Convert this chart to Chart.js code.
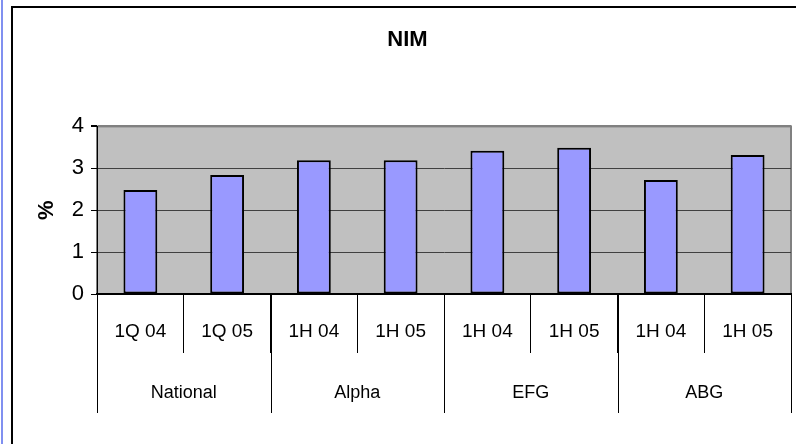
<!DOCTYPE html>
<html>
<head>
<meta charset="utf-8">
<script src="https://cdn.jsdelivr.net/npm/chart.js@4.4.1/dist/chart.umd.min.js"></script>
<style>
  html, body { margin: 0; padding: 0; background: #fff; overflow: hidden; }
  #wrap { position: relative; width: 796px; height: 444px; }
  #frame { position: absolute; left: 11px; top: 6px; width: 900px; height: 600px; border: 2px solid #000; box-sizing: border-box; }
  #bar { position: absolute; left: 1px; top: 0; width: 2px; height: 444px; background: #8090f0; }
  canvas { position: absolute; left: 0; top: 0; }
</style>
</head>
<body>
<div id="wrap">
  <div id="bar"></div>
  <div id="frame"></div>
  <canvas id="nim-chart" width="796" height="444"></canvas>
</div>
<script>
const periods = ['1Q 04', '1Q 05', '1H 04', '1H 05', '1H 04', '1H 05', '1H 04', '1H 05'];
const banks = ['National', 'Alpha', 'EFG', 'ABG'];
const nimValues = [2.48, 2.84, 3.19, 3.19, 3.42, 3.49, 2.72, 3.32];
const yTicks = [0, 1, 2, 3, 4];

const font = "'Liberation Sans', Arial, sans-serif";

// grey plot background with grey frame
const plotArea = {
    id: 'plotArea',
    beforeDraw(chart) {
        const a = chart.chartArea;
        const ctx = chart.ctx;
        ctx.save();
        ctx.fillStyle = '#c0c0c0';
        ctx.fillRect(a.left, a.top, a.right - a.left, a.bottom - a.top);
        ctx.strokeStyle = '#808080';
        ctx.lineWidth = 2;
        ctx.strokeRect(a.left, a.top, a.right - a.left, a.bottom - a.top);
        ctx.restore();
    }
};

// second row of the category axis: bank names and group dividers
const groupAxis = {
    id: 'groupAxis',
    afterDraw(chart) {
        const x = chart.scales.x;
        const ctx = chart.ctx;
        const per = periods.length / banks.length;
        const step = x.getPixelForValue(1) - x.getPixelForValue(0);
        const top = chart.chartArea.bottom;
        ctx.save();
        ctx.strokeStyle = '#000';
        ctx.lineWidth = 1;
        for (let g = 0; g <= banks.length; g++) {
            const px = Math.round(x.getPixelForValue(g * per) - step / 2) + 0.5;
            ctx.beginPath();
            ctx.moveTo(px, top);
            ctx.lineTo(px, top + 119);
            ctx.stroke();
        }
        ctx.fillStyle = '#000';
        ctx.font = '18px ' + font;
        ctx.textAlign = 'center';
        ctx.textBaseline = 'middle';
        banks.forEach((b, g) => {
            const cx = (x.getPixelForValue(g * per) + x.getPixelForValue(g * per + per - 1)) / 2;
            ctx.fillText(b, cx, top + 99);
        });
        ctx.restore();
    }
};

new Chart(document.getElementById('nim-chart'), {
    type: 'bar',
    data: {
        labels: periods,
        datasets: [{
            data: nimValues,
            backgroundColor: '#9999ff',
            borderColor: '#000',
            borderWidth: 2,
            borderSkipped: false,
            categoryPercentage: 1,
            barPercentage: 0.39
        }]
    },
    options: {
        responsive: false,
        animation: false,
        layout: { padding: { left: 24, right: 5, top: 0, bottom: 0 } },
        plugins: {
            legend: { display: false },
            tooltip: { enabled: false },
            title: {
                display: true,
                text: 'NIM',
                color: '#000',
                font: { family: font, size: 22, weight: 'bold' },
                padding: { top: 27, bottom: 73 }
            }
        },
        scales: {
            x: {
                grid: {
                    offset: true,
                    drawOnChartArea: false,
                    tickLength: 59,
                    tickColor: '#000',
                    color: '#000'
                },
                border: { color: '#000', width: 2 },
                ticks: {
                    color: '#000',
                    padding: -33,
                    font: { family: font, size: 19 }
                },
                afterFit(axis) { axis.height = 150; }
            },
            y: {
                min: 0,
                max: 4,
                afterBuildTicks(axis) { axis.ticks = yTicks.map(v => ({ value: v })); },
                grid: {
                    color: ctx => ctx.tick.value === 4 ? '#808080' : (ctx.tick.value === 0 ? 'rgba(0,0,0,0)' : '#404040'),
                    lineWidth: ctx => ctx.tick.value === 4 ? 2 : 1,
                    tickColor: '#000',
                    tickLength: 6
                },
                border: { color: '#000', width: 1 },
                ticks: {
                    color: '#000',
                    padding: 7,
                    font: { family: font, size: 22 }
                },
                title: {
                    display: true,
                    text: '%',
                    color: '#000',
                    font: { family: font, size: 22, weight: 'bold' },
                    padding: { top: 10, bottom: 0 }
                },
                afterFit(axis) { axis.width = 73; }
            }
        }
    },
    plugins: [plotArea, groupAxis]
});
</script>
</body>
</html>
